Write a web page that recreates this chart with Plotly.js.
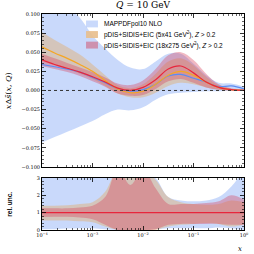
<!DOCTYPE html>
<html><head><meta charset="utf-8">
<script src="https://cdn.plot.ly/plotly-3.0.1.min.js"></script>
<style>html,body{margin:0;padding:0;background:#fff}</style>
</head><body><div id="plot" style="width:254px;height:254px"></div>
<script>
// x grid (log10 x)
const logX = [-4,-3.75,-3.5,-3.25,-3,-2.75,-2.5,-2.25,-2,-1.75,-1.5,-1.25,-1,-0.75,-0.5,-0.25,0];
// top panel: x*Delta sbar(x,Q)
const mapCentral = [0.034,0.031,0.028,0.024,0.017,0.010,0.002,-0.001,0.001,0.008,0.019,0.021,0.016,0.011,0.005,0.006,0.002];
const mapUpper   = [0.15,0.13,0.11,0.095,0.072,0.055,0.040,0.030,0.028,0.038,0.048,0.048,0.035,0.020,0.010,0.009,0.005];
const mapLower   = [-0.068,-0.061,-0.054,-0.047,-0.040,-0.031,-0.025,-0.026,-0.022,-0.012,-0.005,-0.003,-0.002,-0.001,-0.001,0.000,0.000];
const eic5Central = [0.057,0.049,0.042,0.034,0.025,0.013,0.002,-0.003,-0.001,0.008,0.020,0.025,0.020,0.011,0.004,0.001,0.000];
const eic5Upper   = [0.076,0.066,0.057,0.047,0.034,0.020,0.007,0.003,0.008,0.022,0.038,0.042,0.033,0.018,0.007,0.002,0.001];
const eic5Lower   = [0.038,0.033,0.028,0.022,0.015,0.006,-0.004,-0.009,-0.009,-0.003,0.006,0.010,0.008,0.004,0.001,0.000,0.000];
const eic18Central = [0.040,0.034,0.029,0.024,0.018,0.011,0.003,0.000,0.004,0.014,0.028,0.032,0.023,0.011,0.004,0.001,0.000];
const eic18Upper   = [0.048,0.042,0.036,0.030,0.024,0.017,0.009,0.007,0.013,0.028,0.046,0.050,0.040,0.022,0.008,0.003,0.001];
const eic18Lower   = [0.032,0.028,0.024,0.019,0.012,0.005,-0.004,-0.007,-0.006,0.002,0.012,0.015,0.010,0.004,0.001,0.000,0.000];
// bottom panel: relative uncertainty
const relMapUpper  = [3.5,3.5,3.5,3.5,3.5,3.5,3.5,3.5,3.5,3.0,1.9,1.7,1.65,1.7,1.9,2.5,3.5];
const relMapLower  = [0.05,0.05,0.08,0.1,0.1,0.05,0.0,0.0,0.0,0.05,0.1,0.1,0.12,0.1,0.15,0.1,0.0];
const rel5Upper    = [1.4,1.4,1.42,1.5,1.6,2.2,3.5,3.5,3.5,2.9,1.9,1.6,1.5,1.45,1.5,1.7,1.6];
const rel5Lower    = [0.55,0.55,0.55,0.5,0.45,0.2,0.0,0.0,0.0,0.0,0.2,0.3,0.35,0.4,0.35,0.2,0.3];
const rel18Upper   = [1.27,1.25,1.25,1.3,1.4,1.9,3.5,2.6,3.5,2.4,1.5,1.5,1.5,1.55,1.65,2.0,1.75];
const rel18Lower   = [0.75,0.76,0.76,0.72,0.62,0.3,0.0,0.0,0.0,0.05,0.3,0.35,0.35,0.35,0.35,0.3,0.3];
const relCentral   = [1,1,1,1,1,1,1,1,1,1,1,1,1,1,1,1,1];
const legendLabels = ["MAPPDFpol10 NLO",
  "pDIS+SIDIS+EIC (5x41 GeV<sup>2</sup>), <i>Z</i> > 0.2",
  "pDIS+SIDIS+EIC (18x275 GeV<sup>2</sup>), <i>Z</i> > 0.2"];
const xTickVals = [1e-4,1e-3,1e-2,1e-1,1];
const xTickText = ["10<sup>−4</sup>","10<sup>−3</sup>","10<sup>−2</sup>","10<sup>−1</sup>","10<sup>0</sup>"];

const X = logX.map(v => Math.pow(10, v));
const colBlueFill = 'rgba(120,160,245,0.40)';
const colTanFill  = 'rgba(232,165,85,0.38)';
const colPinkFill = 'rgba(215,60,90,0.36)';
const colBlue = '#5b8cf2', colOrange = '#f5a623', colRed = '#e8263c';

function band(lo, hi, fill, xa, ya){
  return [
    {x:X, y:lo, xaxis:xa, yaxis:ya, mode:'lines', line:{width:0, shape:'spline'}, showlegend:false, hoverinfo:'skip'},
    {x:X, y:hi, xaxis:xa, yaxis:ya, mode:'lines', line:{width:0, shape:'spline'}, fill:'tonexty', fillcolor:fill, showlegend:false, hoverinfo:'skip'}
  ];
}
function line(y, c, xa, ya, w){
  return {x:X, y:y, xaxis:xa, yaxis:ya, mode:'lines', line:{color:c, width:w||1.2, shape:'spline'}, showlegend:false, hoverinfo:'skip'};
}
const data = [].concat(
  band(mapLower, mapUpper, colBlueFill, 'x', 'y'),
  band(eic5Lower, eic5Upper, colTanFill, 'x', 'y'),
  band(eic18Lower, eic18Upper, colPinkFill, 'x', 'y'),
  [line(mapCentral, colBlue, 'x','y'), line(eic5Central, colOrange, 'x','y'), line(eic18Central, colRed, 'x','y')],
  band(relMapLower, relMapUpper, colBlueFill, 'x2', 'y2'),
  band(rel5Lower, rel5Upper, colTanFill, 'x2', 'y2'),
  band(rel18Lower, rel18Upper, colPinkFill, 'x2', 'y2'),
  [line(relCentral, colRed, 'x2','y2', 1.3)]
);

const minorX = [];
for (let e=-4; e<0; e++) for (let d=2; d<=9; d++) minorX.push(d*Math.pow(10,e));
const tickFont = {family:'DejaVu Serif', size:5, color:'#000'};
const axBase = {showline:true, linecolor:'#000', linewidth:1, mirror:'allticks', ticks:'inside',
  ticklen:4, tickwidth:0.8, tickcolor:'#000', showgrid:false, zeroline:false, tickfont:tickFont};
const xMinor = {tickvals:minorX, ticks:'inside', ticklen:2, tickwidth:0.6, tickcolor:'#000', showgrid:false};
const layout = {
  width:254, height:254, margin:{l:42, r:10, t:14, b:24},
  paper_bgcolor:'#fff', plot_bgcolor:'#fff', showlegend:false,
  xaxis: Object.assign({}, axBase, {type:'log', range:[-4,0], domain:[0,1], anchor:'y', tickmode:'array',
    tickvals:xTickVals, ticktext:xTickText, showticklabels:false, minor:xMinor}),
  yaxis: Object.assign({}, axBase, {range:[-0.1,0.1], domain:[0.292,1], anchor:'x', dtick:0.025, tick0:0,
    tickformat:'.3f', minor:{dtick:0.005, ticks:'inside', ticklen:2, tickwidth:0.6, tickcolor:'#000', showgrid:false}}),
  xaxis2: Object.assign({}, axBase, {type:'log', range:[-4,0], domain:[0,1], anchor:'y2', tickmode:'array',
    tickvals:xTickVals, ticktext:xTickText, minor:xMinor}),
  yaxis2: Object.assign({}, axBase, {range:[0,3], domain:[0,0.241], anchor:'x2', dtick:1, tick0:0,
    minor:{dtick:0.2, ticks:'inside', ticklen:2, tickwidth:0.6, tickcolor:'#000', showgrid:false}}),
  shapes:[
    {type:'line', xref:'x domain', x0:0, x1:1, yref:'y', y0:0, y1:0, line:{color:'#333', width:1, dash:'dot'}, layer:'above'},
    {type:'rect', xref:'paper', yref:'paper', x0:0.218, x1:0.277, y0:0.938, y1:0.970, fillcolor:colBlueFill, line:{width:0}},
    {type:'rect', xref:'paper', yref:'paper', x0:0.218, x1:0.277, y0:0.889, y1:0.921, fillcolor:'rgba(232,190,140,0.9)', line:{width:0}},
    {type:'rect', xref:'paper', yref:'paper', x0:0.218, x1:0.277, y0:0.840, y1:0.872, fillcolor:'rgba(205,120,150,0.75)', line:{width:0}}
  ],
  annotations:[
    {text:'<i>Q</i> = 10 GeV', xref:'paper', yref:'paper', x:0.5, y:1, yshift:2, yanchor:'bottom', showarrow:false,
      font:{family:'DejaVu Serif', size:9, color:'#000'}},
    {text:legendLabels[0], xref:'paper', yref:'paper', x:0.297, y:0.954, xanchor:'left', yanchor:'middle', showarrow:false,
      font:{family:'Liberation Sans', size:6.5, color:'#000'}},
    {text:legendLabels[1], xref:'paper', yref:'paper', x:0.297, y:0.905, xanchor:'left', yanchor:'middle', showarrow:false,
      font:{family:'Liberation Sans', size:6.5, color:'#000'}},
    {text:legendLabels[2], xref:'paper', yref:'paper', x:0.297, y:0.856, xanchor:'left', yanchor:'middle', showarrow:false,
      font:{family:'Liberation Sans', size:6.5, color:'#000'}},
    {text:'<i>x</i>Δ<i>s̄</i>(<i>x</i>, <i>Q</i>)', xref:'paper', yref:'paper', x:-0.165, y:0.646, textangle:-90,
      xanchor:'center', yanchor:'middle', showarrow:false, font:{family:'DejaVu Serif', size:8, color:'#000'}},
    {text:'<b>rel. unc.</b>', xref:'paper', yref:'paper', x:-0.165, y:0.12, textangle:-90,
      xanchor:'center', yanchor:'middle', showarrow:false, font:{family:'Liberation Sans', size:6.5, color:'#000'}},
    {text:'<i>x</i>', xref:'paper', yref:'paper', x:1, y:-0.088, xanchor:'right', yanchor:'middle', showarrow:false,
      font:{family:'DejaVu Serif', size:7, color:'#000'}}
  ]
};
Plotly.newPlot('plot', data, layout, {staticPlot:true, displayModeBar:false});
</script></body></html>
